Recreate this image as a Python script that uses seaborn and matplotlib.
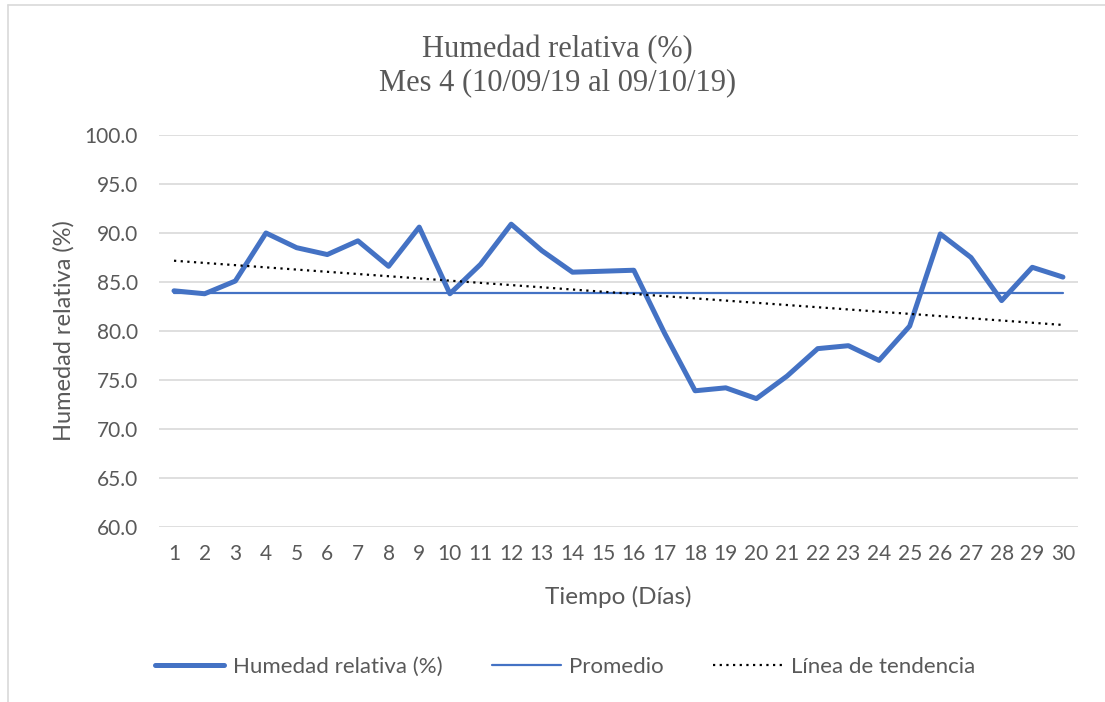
import matplotlib
matplotlib.use("Agg")
import matplotlib.pyplot as plt
import seaborn as sns
import numpy as np
import pandas as pd

# Datos
dias = list(range(1, 31))
humedad = [84.1, 83.8, 85.1, 90.0, 88.5, 87.8, 89.2, 86.6, 90.6, 83.8,
           86.8, 90.9, 88.2, 86.0, 86.1, 86.2, 79.8, 73.9, 74.2, 73.1,
           75.4, 78.2, 78.5, 77.0, 80.5, 89.9, 87.5, 83.1, 86.5, 85.5]
ticks_y = [60.0, 65.0, 70.0, 75.0, 80.0, 85.0, 90.0, 95.0, 100.0]

df = pd.DataFrame({"Dia": dias, "Humedad": humedad})
df["Promedio"] = np.mean(humedad)
# Linea de tendencia (ajuste lineal)
m, b = np.polyfit(df["Dia"], df["Humedad"], 1)
df["Tendencia"] = m * df["Dia"] + b

sns.set_theme(style="white")
plt.rcParams['font.family'] = ['Lato', 'DejaVu Sans']

gris = "#595959"
azul = "#4472C4"

fig = plt.figure(figsize=(11.05, 7.02), dpi=100)
ax = fig.add_axes([0.1436, 0.2493, 0.8322, 0.5584])

sns.lineplot(data=df, x="Dia", y="Humedad", ax=ax, color=azul, linewidth=3.6,
             label="Humedad relativa (%)", solid_capstyle="round")
sns.lineplot(data=df, x="Dia", y="Promedio", ax=ax, color=azul, linewidth=1.6,
             label="Promedio")
sns.lineplot(data=df, x="Dia", y="Tendencia", ax=ax, color="black", linewidth=1.6,
             linestyle=(0, (1, 2)), label="Línea de tendencia")

ax.set_xlim(0.5, 30.5)
ax.set_ylim(60, 100)
ax.set_xticks(dias)
ax.set_xticklabels([str(d) for d in dias])
ax.set_yticks(ticks_y)
ax.set_yticklabels([f"{t:.1f}" for t in ticks_y])
ax.tick_params(axis="both", colors=gris, labelsize=15, length=0)
ax.tick_params(axis="x", pad=12)
ax.tick_params(axis="y", pad=15)
ax.yaxis.grid(True, color="#D9D9D9", linewidth=1.2)
ax.xaxis.grid(False)
for s in ax.spines.values():
    s.set_visible(False)

ax.set_xlabel("Tiempo (Días)", color=gris, fontsize=17.5, labelpad=16)
ax.set_ylabel("Humedad relativa (%)", color=gris, fontsize=17, labelpad=7)

fig.text(0.5045, 0.906, "Humedad relativa (%)\nMes 4 (10/09/19 al 09/10/19)",
         ha="center", va="center", fontsize=22, color=gris,
         family="Liberation Serif", linespacing=1.2)

leg = ax.legend(loc="center", bbox_to_anchor=(0.442, -0.357), ncol=3, frameon=False,
                fontsize=16, handlelength=3.1, columnspacing=2.2, handletextpad=0.4)
for t in leg.get_texts():
    t.set_color(gris)

# borde del area del grafico (solo visible arriba e izquierda)
fig.add_artist(plt.Line2D([0.0072, 0.0072], [0.0, 0.993], transform=fig.transFigure,
                          color="#D9D9D9", linewidth=1.2))
fig.add_artist(plt.Line2D([0.0072, 1.0], [0.993, 0.993], transform=fig.transFigure,
                          color="#D9D9D9", linewidth=1.2))

fig.savefig("out.png", dpi=100)
